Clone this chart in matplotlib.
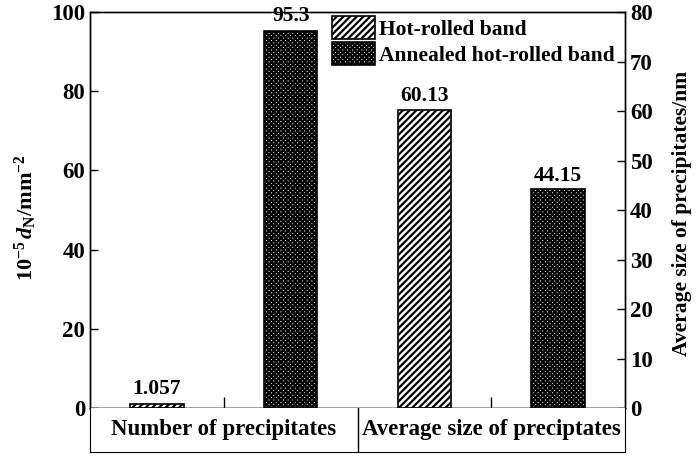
import matplotlib.pyplot as plt

plt.rcParams['font.family'] = 'Liberation Serif'
plt.rcParams['font.weight'] = 'bold'
plt.rcParams['axes.labelweight'] = 'bold'
plt.rcParams['mathtext.fontset'] = 'custom'
plt.rcParams['mathtext.rm'] = 'Liberation Serif:bold'
plt.rcParams['mathtext.it'] = 'Liberation Serif:italic:bold'
plt.rcParams['hatch.linewidth'] = 1.6

categories = ["Number of precipitates", "Average size of preciptates"]
series = ["Hot-rolled band", "Annealed hot-rolled band"]
number_vals = [1.057, 95.3]       # left axis
size_vals = [60.13, 44.15]        # right axis
number_labels = ["1.057", "95.3"]
size_labels = ["60.13", "44.15"]
hatches = ["/////", "xxxxxxx"]

fig = plt.figure(figsize=(7, 4.59), dpi=100)
ax = fig.add_axes([0.1286, 0.1111, 0.7643, 0.8627])
ax2 = ax.twinx()

bw = 0.4
bars = []
for i in range(2):
    b = ax.bar(0.5 + i, number_vals[i], bw, color="white", edgecolor="black",
               hatch=hatches[i], linewidth=1.2, label=series[i], zorder=2)
    bars.append(b)
    ax.text(0.5 + i, number_vals[i] + 1.2, number_labels[i], ha="center", va="bottom",
            fontsize=15.5, bbox=dict(facecolor="white", edgecolor="none", pad=0.5), zorder=5)
for i in range(2):
    ax2.bar(2.5 + i, size_vals[i], bw, color="white", edgecolor="black",
            hatch=hatches[i], linewidth=1.2, zorder=2)
    ax2.text(2.5 + i, size_vals[i] + 0.8, size_labels[i], ha="center", va="bottom", fontsize=15.5)

ax.set_xlim(0, 4)
ax.set_ylim(0, 100)
ax2.set_ylim(0, 80)
ax.set_xticks([1, 3])
ax.set_xticklabels([])
ax.tick_params(axis="x", direction="in", length=8, width=1)
ax.tick_params(axis="y", direction="in", length=6, width=1, labelsize=16.5)
ax2.tick_params(axis="y", direction="in", length=6, width=1, labelsize=16.5)
for a in (ax, ax2):
    for s in a.spines.values():
        s.set_linewidth(1.0)

fig.text(0.037, 0.525, r"$10^{-5}\,\mathit{d}_{\mathrm{N}}/\mathrm{mm}^{-2}$", fontsize=16,
         rotation=90, ha="center", va="center")
fig.text(0.974, 0.536, "Average size of precipitates/nm", fontsize=15.5,
         rotation=90, ha="center", va="center")

leg = ax.legend(handles=bars, loc="upper left", bbox_to_anchor=(0.436, 1.012),
                frameon=False, fontsize=15.5, handlelength=2.0, handleheight=1.3,
                handletextpad=0.2, labelspacing=0.1, borderaxespad=0)

# category box under the axis
bx = fig.add_axes([0.1286, 0.0153, 0.7643, 0.0958])
bx.set_xlim(0, 4)
bx.set_ylim(0, 1)
bx.set_xticks([])
bx.set_yticks([])
bx.spines["top"].set_visible(False)
bx.axvline(2, color="black", linewidth=1.0)
for i, c in enumerate(categories):
    bx.text(1 + 2 * i, 0.5, c, ha="center", va="center", fontsize=16.5)

fig.savefig("out.png", dpi=100)
